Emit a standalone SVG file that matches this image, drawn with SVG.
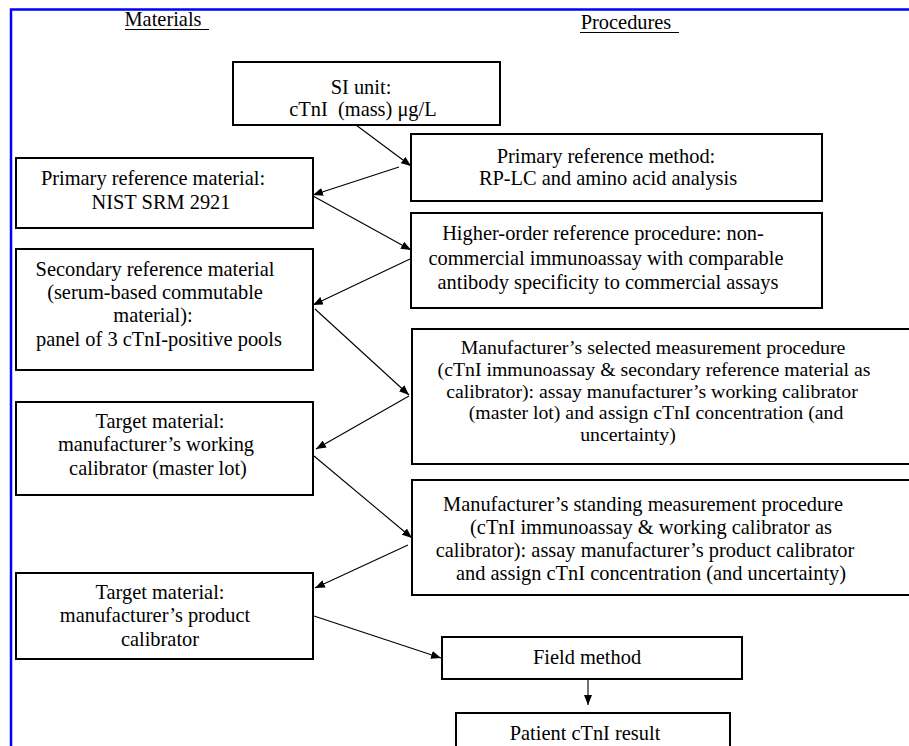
<svg xmlns="http://www.w3.org/2000/svg" width="909" height="746" viewBox="0 0 909 746">
<style>
  .bg{fill:#ffffff}
  .frame{stroke:#0000ff;stroke-width:2.5;fill:none}
  .box{fill:#ffffff;stroke:#000000;stroke-width:2}
  .t{font-family:"Liberation Serif","Times New Roman",serif;font-size:20.4px;fill:#000000;text-anchor:middle}
  .s{font-size:19.8px}
  .ul{stroke:#000000;stroke-width:1}
  .conn{stroke:#000000;stroke-width:1.1;fill:none;marker-end:url(#ah)}
</style>
<defs>
  <marker id="ah" markerUnits="userSpaceOnUse" markerWidth="10" markerHeight="8" refX="10" refY="4" orient="auto">
    <path d="M0,0 L10,4 L0,8 z" fill="#000000"/>
  </marker>
</defs>
<rect class="bg" x="0" y="0" width="909" height="746"/>
<path class="frame" d="M11,746 L11,9.5 L909,9.5"/>

<g id="headers">
  <text class="t" x="163" y="26">Materials</text>
  <line class="ul" x1="125" y1="29.5" x2="209" y2="29.5"/>
  <text class="t" x="626" y="29">Procedures</text>
  <line class="ul" x1="580" y1="32.5" x2="679" y2="32.5"/>
</g>

<g id="si-unit">
  <rect class="box" x="233" y="62" width="267" height="63"/>
  <text class="t" x="361" y="94">SI unit:</text>
  <text class="t" x="363" y="116">cTnI&#160; (mass) μg/L</text>
</g>

<g id="primary-method">
  <rect class="box" x="411" y="134" width="411" height="67"/>
  <text class="t" x="606" y="163">Primary reference method:</text>
  <text class="t" x="608" y="185">RP-LC and amino acid analysis</text>
</g>

<g id="primary-material">
  <rect class="box" x="16" y="158" width="297" height="70"/>
  <text class="t" x="153" y="185">Primary reference material:</text>
  <text class="t" x="161" y="209">NIST SRM 2921</text>
</g>

<g id="higher-order">
  <rect class="box" x="411" y="213" width="411" height="95"/>
  <text class="t" x="603" y="240">Higher-order reference procedure: non-</text>
  <text class="t" x="606" y="265">commercial immunoassay with comparable</text>
  <text class="t" x="608" y="289">antibody specificity to commercial assays</text>
</g>

<g id="secondary-material">
  <rect class="box" x="16" y="249" width="297" height="121"/>
  <text class="t" x="155" y="276">Secondary reference material</text>
  <text class="t" x="155" y="299">(serum-based commutable</text>
  <text class="t" x="153" y="322">material):</text>
  <text class="t" x="159" y="346">panel of 3 cTnI-positive pools</text>
</g>

<g id="selected-procedure">
  <rect class="box" x="412" y="329" width="505" height="135"/>
  <text class="t s" x="653" y="354">Manufacturer’s selected measurement procedure</text>
  <text class="t s" x="654" y="376">(cTnI immunoassay &amp; secondary reference material as</text>
  <text class="t s" x="652" y="398">calibrator): assay manufacturer’s working calibrator</text>
  <text class="t s" x="656" y="419">(master lot) and assign cTnI concentration (and</text>
  <text class="t s" x="628" y="441">uncertainty)</text>
</g>

<g id="working-calibrator">
  <rect class="box" x="16" y="402" width="297" height="93"/>
  <text class="t" x="160" y="428">Target material:</text>
  <text class="t" x="156" y="451">manufacturer’s working</text>
  <text class="t" x="158" y="475">calibrator (master lot)</text>
</g>

<g id="standing-procedure">
  <rect class="box" x="412" y="480" width="505" height="115"/>
  <text class="t" x="643" y="511">Manufacturer’s standing measurement procedure</text>
  <text class="t" x="651" y="534">(cTnI immunoassay &amp; working calibrator as</text>
  <text class="t" x="645" y="557">calibrator): assay manufacturer’s product calibrator</text>
  <text class="t" x="651" y="580">and assign cTnI concentration (and uncertainty)</text>
</g>

<g id="product-calibrator">
  <rect class="box" x="16" y="573" width="297" height="86"/>
  <text class="t" x="160" y="599">Target material:</text>
  <text class="t" x="155" y="622">manufacturer’s product</text>
  <text class="t" x="160" y="646">calibrator</text>
</g>

<g id="field-method">
  <rect class="box" x="442" y="637" width="300" height="42"/>
  <text class="t" x="587" y="664">Field method</text>
</g>

<g id="patient-result">
  <rect class="box" x="456" y="713" width="274" height="50"/>
  <text class="t" x="585" y="740">Patient cTnI result</text>
</g>

<g id="connectors">
  <line class="conn" x1="356" y1="125" x2="411" y2="166"/>
  <line class="conn" x1="399" y1="167" x2="313" y2="195"/>
  <line class="conn" x1="313" y1="196" x2="411" y2="250"/>
  <line class="conn" x1="410" y1="259" x2="313" y2="305"/>
  <line class="conn" x1="315" y1="309" x2="409" y2="395"/>
  <line class="conn" x1="409" y1="396" x2="316" y2="449"/>
  <line class="conn" x1="314" y1="456" x2="412" y2="538"/>
  <line class="conn" x1="408" y1="545" x2="315" y2="588"/>
  <line class="conn" x1="314" y1="616" x2="441" y2="658"/>
  <line class="conn" x1="588" y1="679" x2="588" y2="705"/>
</g>
</svg>
